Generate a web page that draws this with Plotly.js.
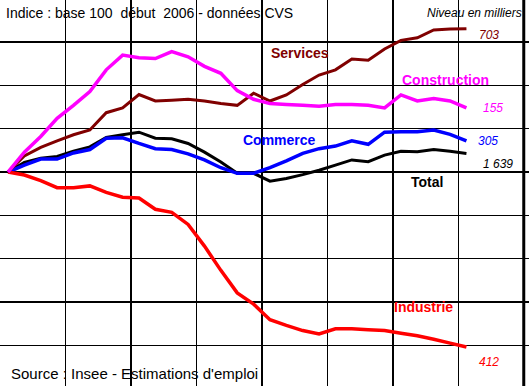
<!DOCTYPE html>
<html>
<head>
<meta charset="utf-8">
<script src="https://cdn.plot.ly/plotly-3.0.1.min.js"></script>
<style>html,body{margin:0;padding:0;background:#fff;}#chart{width:529px;height:386px;}</style>
</head>
<body>
<div id="chart"></div>
<script>
// Quarters from start of 2006 (index 0 = base 100)
const quarters = [0,1,2,3,4,5,6,7,8,9,10,11,12,13,14,15,16,17,18,19,20,21,22,23,24,25,26,27,28];

const services = [100,101.85,102.85,103.6,104.3,104.85,106.85,107.4,108.95,108.2,108.3,108.4,108.2,107.9,107.7,109.1,108.2,108.9,110.1,111.2,111.8,113.05,112.9,114.2,115.2,115.5,116.4,116.5,116.55];
const construction = [100,102.3,104.1,106.2,107.7,109.3,111.8,113.5,113.2,113.1,113.9,113.3,112.2,111.4,109.4,108.4,107.9,107.8,107.7,107.6,107.8,107.8,107.7,107.4,108.9,108.2,108.5,108.2,107.4];
const commerce = [100,100.8,101.5,101.5,102.2,102.6,103.9,103.95,103.3,102.7,102.6,102.1,101.4,100.5,99.85,99.85,100.5,101.3,102.15,102.7,103.0,103.6,103.2,104.6,104.65,104.65,104.85,104.35,103.6];
const total = [100,101.1,101.6,101.8,102.4,102.9,104.0,104.3,104.6,103.9,103.85,103.3,102.3,101.15,99.85,99.85,98.95,99.25,99.7,100.2,100.8,101.4,101.2,101.95,102.4,102.35,102.6,102.4,102.15];
const industrie = [100,99.65,99.0,98.2,98.2,98.4,97.65,97.1,97.0,95.7,95.35,93.95,91.45,88.65,86.05,84.75,82.95,82.3,81.7,81.3,81.9,81.9,81.8,81.7,81.4,81.1,80.7,80.25,79.8];

const seriesNames = ["Services","Construction","Commerce","Total","Industrie"];
const levels = ["703","155","305","1 639","412"];

const FONT = "Liberation Sans, Arial, sans-serif";

function tr(y, color, w, name){
  return {x: quarters, y: y, type: 'scatter', mode: 'lines', name: name,
    line: {color: color, width: w, simplify: false}, hoverinfo: 'skip'};
}

const data = [
  tr(total, '#000000', 3, seriesNames[3]),
  tr(commerce, '#0000FF', 3.5, seriesNames[2]),
  tr(industrie, '#FF0000', 3.5, seriesNames[4]),
  tr(services, '#800000', 3, seriesNames[0]),
  tr(construction, '#FF00FF', 3.5, seriesNames[1])
];

const W = 529, H = 386;
function ann(text, px, py, color, opts){
  return Object.assign({
    text: text, xref: 'paper', yref: 'paper', x: px / W, y: 1 - py / H,
    xanchor: 'left', yanchor: 'middle', showarrow: false,
    font: {family: FONT, size: 14, color: color}
  }, opts || {});
}

const annotations = [
  ann('Indice : base 100\u00A0 début\u00A0 2006 - données CVS', 4, 13, '#000000', {font:{family:FONT,size:14,color:'#000'}}),
  ann('<i>Niveau en milliers</i>', 524, 13, '#000000', {xanchor:'right', font:{family:FONT,size:12,color:'#000'}}),
  ann('<b>' + seriesNames[0] + '</b>', 269, 53, '#800000'),
  ann('<b>' + seriesNames[1] + '</b>', 400, 80, '#FF00FF'),
  ann('<b>' + seriesNames[2] + '</b>', 241, 140, '#0000FF'),
  ann('<b>' + seriesNames[3] + '</b>', 409, 182, '#000000'),
  ann('<b>' + seriesNames[4] + '</b>', 392, 307, '#FF0000'),
  ann('<i>' + levels[0] + '</i>', 477, 35, '#800000', {font:{family:FONT,size:12,color:'#800000'}}),
  ann('<i>' + levels[1] + '</i>', 481, 108, '#FF00FF', {font:{family:FONT,size:12,color:'#FF00FF'}}),
  ann('<i>' + levels[2] + '</i>', 476, 141, '#0000FF', {font:{family:FONT,size:12,color:'#0000FF'}}),
  ann('<i>' + levels[3] + '</i>', 481, 164, '#000000', {font:{family:FONT,size:12,color:'#000000'}}),
  ann('<i>' + levels[4] + '</i>', 477, 362, '#FF0000', {font:{family:FONT,size:12,color:'#FF0000'}}),
  ann('Source : Insee - Estimations d\'emploi', 9, 373, '#000000', {font:{family:FONT,size:15,color:'#000'}})
];

const layout = {
  width: W, height: H, autosize: false,
  margin: {l: 0, r: 0, t: 0, b: 0, pad: 0},
  paper_bgcolor: '#ffffff', plot_bgcolor: '#ffffff',
  showlegend: false,
  xaxis: {range: [-0.488, 31.82], tickmode: 'linear', tick0: -0.5, dtick: 4,
    showgrid: true, gridcolor: '#000000', gridwidth: 1.5, zeroline: false,
    showticklabels: false, ticks: '', showline: false, fixedrange: true},
  yaxis: {range: [75.3, 119.86], tickmode: 'linear', tick0: 0, dtick: 5,
    showgrid: true, gridcolor: '#000000', gridwidth: 1.5, zeroline: false,
    showticklabels: false, ticks: '', showline: false, fixedrange: true},
  shapes: [
    {type: 'line', xref: 'x', yref: 'paper', x0: 31.5, x1: 31.5, y0: 0, y1: 1,
     line: {color: '#000000', width: 3}, layer: 'above'}
  ],
  annotations: annotations
};

Plotly.newPlot('chart', data, layout, {displayModeBar: false, staticPlot: true});
</script>
</body>
</html>
